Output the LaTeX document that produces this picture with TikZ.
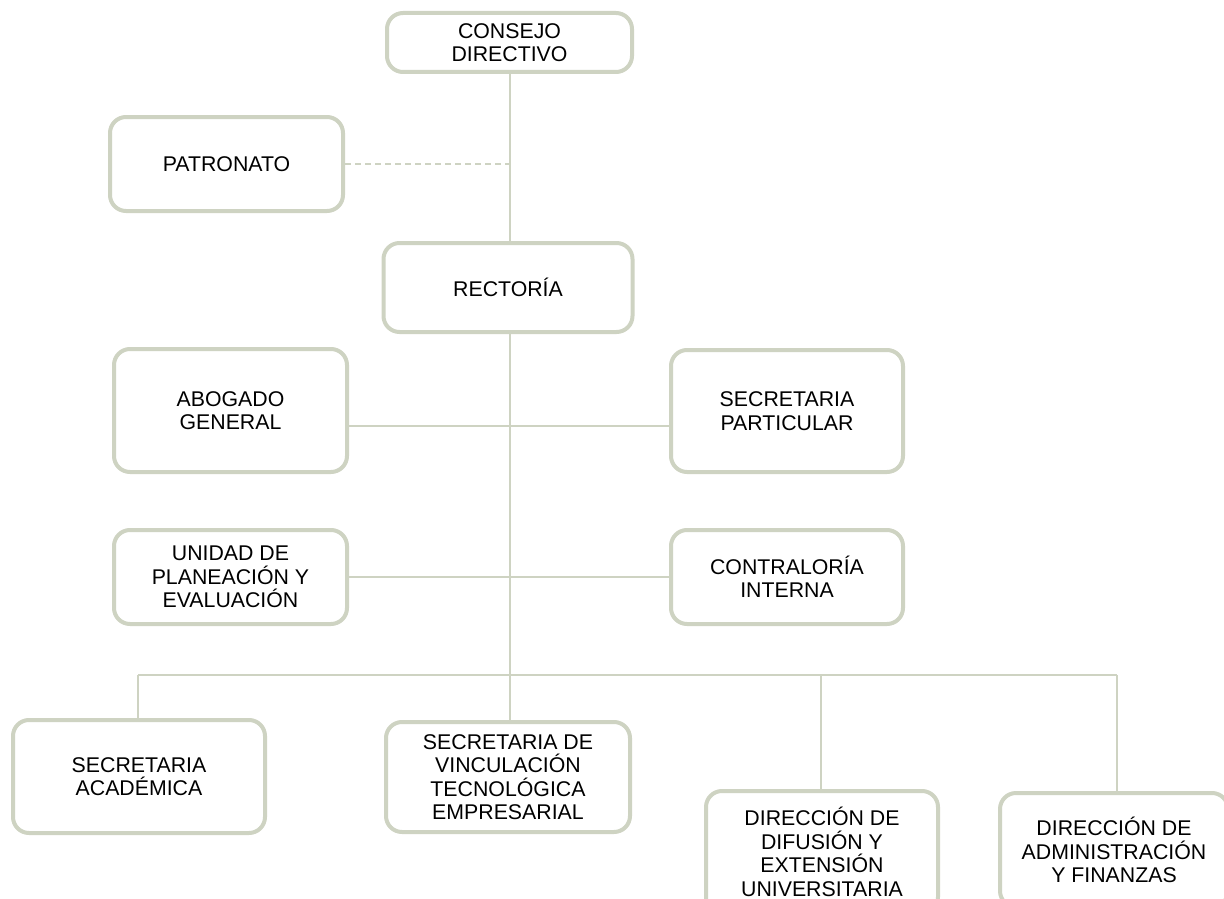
\documentclass[tikz,border=0pt]{standalone}
\usepackage{fontspec}
\setmainfont{Liberation Sans}
\definecolor{boxc}{RGB}{206,211,194}
\tikzset{
  orgbox/.style={draw=boxc, line width=4pt, rounded corners=16pt, fill=white,
    align=center, inner sep=2pt, font=\fontsize{21.3}{23.5}\selectfont},
  conn/.style={draw=boxc, line width=1.7pt},
  dconn/.style={draw=boxc, line width=1.7pt, dash pattern=on 6pt off 4pt}
}
\begin{document}
\begin{tikzpicture}[x=1pt,y=-1pt]
\useasboundingbox (0,0) rectangle (1224,899);
\clip (0,0) rectangle (1224,899);
% nodes
\node[orgbox, minimum width=245pt, minimum height=59pt] (consejo) at (509.5,42.5) {CONSEJO\\DIRECTIVO};
\node[orgbox, minimum width=233pt, minimum height=94pt] (patronato) at (226.5,164) {PATRONATO};
\node[orgbox, minimum width=249pt, minimum height=89pt] (rectoria) at (508,287.5) {RECTORÍA};
\node[orgbox, minimum width=233pt, minimum height=123pt] (abogado) at (230.5,410.5) {ABOGADO\\GENERAL};
\node[orgbox, minimum width=232pt, minimum height=122pt] (secpart) at (787,411) {SECRETARIA\\PARTICULAR};
\node[orgbox, minimum width=233pt, minimum height=94pt] (unidad) at (230.5,577) {UNIDAD DE\\PLANEACIÓN Y\\EVALUACIÓN};
\node[orgbox, minimum width=232pt, minimum height=94pt] (contra) at (787,577) {CONTRALORÍA\\INTERNA};
\node[orgbox, minimum width=252pt, minimum height=113pt] (secacad) at (139,776.5) {SECRETARIA\\ACADÉMICA};
\node[orgbox, minimum width=244pt, minimum height=110pt] (secvinc) at (508,777) {SECRETARIA DE\\VINCULACIÓN\\TECNOLÓGICA\\EMPRESARIAL};
\node[orgbox, minimum width=232pt, minimum height=122pt] (difusion) at (822,852) {DIRECCIÓN DE\\DIFUSIÓN Y\\EXTENSIÓN\\UNIVERSITARIA};
\node[orgbox, minimum width=228pt, minimum height=114pt] (admin) at (1114,850) {DIRECCIÓN DE\\ADMINISTRACIÓN\\Y FINANZAS};
% coordinates
\coordinate (pj) at (510,164);
\coordinate (bus) at (510,675);
\coordinate (bl) at (138,675);
\coordinate (bd) at (821,675);
\coordinate (br) at (1117,675);
% connectors
\draw[conn] (consejo.south -| bus) -- (rectoria.north -| bus);
\draw[dconn] (patronato.east) -- (pj);
\draw[conn] (rectoria.south -| bus) -- (bus);
\draw[conn] (abogado.east |- 0,426) -- (secpart.west |- 0,426);
\draw[conn] (unidad.east) -- (contra.west);
\draw[conn] (bl) -- (br);
\draw[conn] (bl) -- (secacad.north -| bl);
\draw[conn] (bus) -- (secvinc.north -| bus);
\draw[conn] (bd) -- (difusion.north -| bd);
\draw[conn] (br) -- (admin.north -| br);
\end{tikzpicture}
\end{document}
